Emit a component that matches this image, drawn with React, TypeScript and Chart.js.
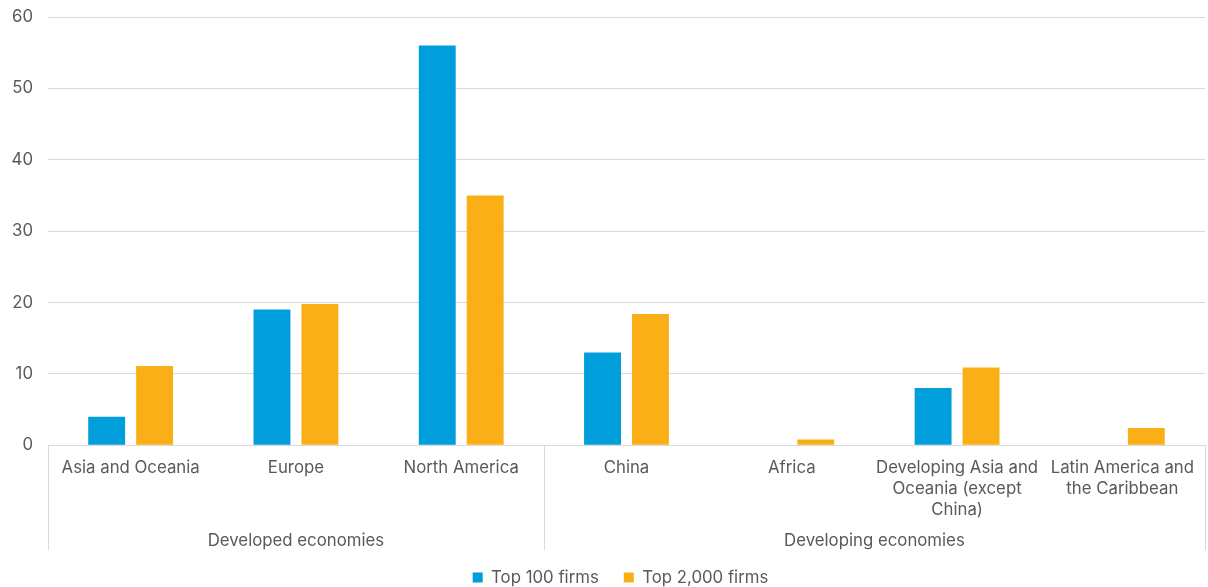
import React, { useEffect, useRef } from "react";
import { Chart, registerables } from "chart.js";

Chart.register(...registerables);

const categories: (string | string[])[] = [
  "Asia and Oceania",
  "Europe",
  "North America",
  "China",
  "Africa",
  ["Developing Asia and", "Oceania (except", "China)"],
  ["Latin America and", "the Caribbean"],
];
const groups = [
  { label: "Developed economies", from: 0, to: 2 },
  { label: "Developing economies", from: 3, to: 6 },
];
const top100 = [4, 19, 56, 13, 0, 8, 0];
const top2000 = [11.1, 19.8, 35, 18.4, 0.8, 10.9, 2.4];
const yTicks = [0, 10, 20, 30, 40, 50, 60];

const FONT = "Inter, 'Noto Sans', sans-serif";
const FS = 16.8;
const TEXT = "#595959";
const GRID = "#d9d9d9";

const groupPlugin = {
  id: "groupPlugin",
  afterLayout(chart: any) {
    const lg = chart.legend;
    if (lg) {
      lg.left += 18;
      lg.right += 18;
    }
  },
  afterDraw(chart: any) {
    const x = chart.scales.x;
    const ctx = chart.ctx;
    const top = x.top;
    const bottom = x.top + 105;
    const boundary = (i: number) => {
      if (i < 0) return x.left;
      if (i >= categories.length - 1) return x.right;
      return (x.getPixelForValue(i) + x.getPixelForValue(i + 1)) / 2;
    };
    ctx.save();
    ctx.strokeStyle = GRID;
    ctx.lineWidth = 1;
    const lines = [boundary(-1)];
    groups.forEach((g) => lines.push(boundary(g.to)));
    lines.forEach((px) => {
      const p = Math.round(px) + 0.5;
      ctx.beginPath();
      ctx.moveTo(p, top);
      ctx.lineTo(p, bottom);
      ctx.stroke();
    });
    ctx.fillStyle = TEXT;
    ctx.font = `${FS}px ${FONT}`;
    ctx.textAlign = "center";
    ctx.textBaseline = "middle";
    groups.forEach((g) => {
      const cx = (boundary(g.from - 1) + boundary(g.to)) / 2;
      ctx.fillText(g.label, cx, top + 96);
    });
    ctx.restore();
  },
};

export default function App() {
  const ref = useRef<HTMLCanvasElement>(null);
  useEffect(() => {
    document.body.style.margin = "0";
    const chart = new Chart(ref.current!, {
      type: "bar",
      data: {
        labels: categories,
        datasets: [
          {
            label: "Top 100 firms",
            data: top100,
            backgroundColor: "#009edb",
            categoryPercentage: 0.58,
            barPercentage: 0.77,
          },
          {
            label: "Top 2,000 firms",
            data: top2000,
            backgroundColor: "#fbaf17",
            categoryPercentage: 0.58,
            barPercentage: 0.77,
          },
        ],
      },
      options: {
        animation: false,
        responsive: false,
        maintainAspectRatio: false,
        layout: { padding: { top: 17, right: 3, left: 0, bottom: -9 } },
        plugins: {
          tooltip: { enabled: false },
          legend: {
            position: "bottom",
            labels: {
              boxWidth: 10,
              boxHeight: 10,
              padding: 25,
              color: TEXT,
              font: { family: FONT, size: FS },
            },
          },
        },
        scales: {
          x: {
            grid: { display: false, drawTicks: false },
            border: { display: true, color: GRID },
            afterFit(scale: any) {
              scale.height = 99;
            },
            ticks: {
              color: TEXT,
              font: { family: FONT, size: FS, lineHeight: 1.25 },
              padding: 12,
              maxRotation: 0,
              autoSkip: false,
            },
          },
          y: {
            min: 0,
            max: 60,
            afterBuildTicks(scale: any) {
              scale.ticks = yTicks.map((v) => ({ value: v }));
            },
            afterFit(scale: any) {
              scale.width = 48;
              scale.paddingTop = 0;
              scale.paddingBottom = 0;
            },
            grid: { color: GRID, drawTicks: false },
            border: { display: false },
            ticks: {
              color: TEXT,
              font: { family: FONT, size: FS },
              padding: 15,
            },
          },
        },
      },
      plugins: [groupPlugin],
    });
    return () => chart.destroy();
  }, []);
  return (
    <div style={{ position: "absolute", left: 0, top: 0, width: 1208, height: 587 }}>
      <canvas ref={ref} width={1208} height={587} />
    </div>
  );
}
